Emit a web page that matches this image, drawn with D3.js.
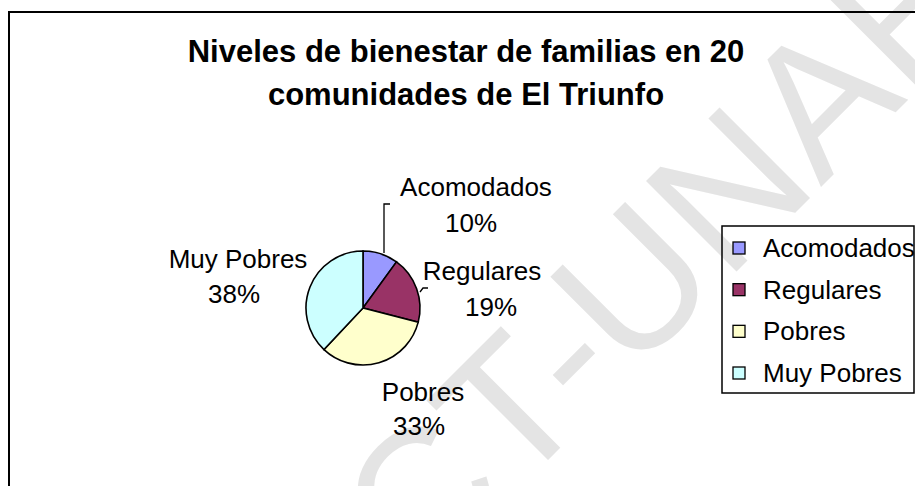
<!DOCTYPE html>
<html>
<head>
<meta charset="utf-8">
<script src="https://cdnjs.cloudflare.com/ajax/libs/d3/7.8.5/d3.min.js"></script>
<style>
body{margin:0;background:#fff;}
text{font-family:Arial,"Liberation Sans",sans-serif;}
</style>
</head>
<body>
<script>
var width = 915;
var height = 486;

var categories = ['Acomodados','Regulares','Pobres','Muy Pobres'];
var values = [10,19,33,38];
var colors = ['#9999FF','#993366','#FFFFCC','#CCFFFF'];
var titleLines = ['Niveles de bienestar de familias en 20','comunidades de El Triunfo'];
// label text centres
var labelPos = [[476,196,471,232],[482,280,491,316],[423,401,419,435],[238,268,234,303]];

var svg = d3.select('body').append('svg')
	.attr('width',width)
	.attr('height',height);

// watermark
svg.append('text')
	.attr('transform','translate(419,589) rotate(-45)')
	.attr('font-size',186)
	.attr('fill','#e4e4e4')
	.text('CT-UNAH');

// chart frame
svg.append('rect')
	.attr('x',9).attr('y',12)
	.attr('width',1000).attr('height',600)
	.attr('fill','none')
	.attr('stroke','#000')
	.attr('stroke-width',2);

svg.append('g').selectAll('text')
	.data(titleLines)
	.enter()
	.append('text')
	.attr('x',466)
	.attr('y',(d,i)=>62+i*43)
	.attr('text-anchor','middle')
	.attr('font-weight','bold')
	.attr('font-size',31)
	.text(d=>d);

var cx = 363, cy = 308, r = 57;
var pie = d3.pie().sort(null).value(d=>d)(values);
var arc = d3.arc().innerRadius(0).outerRadius(r);

svg.append('g')
	.attr('transform','translate('+cx+','+cy+')')
	.selectAll('path')
	.data(pie)
	.enter()
	.append('path')
	.attr('d',arc)
	.attr('fill',(d,i)=>colors[i])
	.attr('stroke','#000')
	.attr('stroke-width',1.6);

// leader lines
svg.append('path')
	.attr('d','M384,253V204H390')
	.attr('fill','none').attr('stroke','#000').attr('stroke-width',1.3);
svg.append('path')
	.attr('d','M420,292L423,288H428')
	.attr('fill','none').attr('stroke','#000').attr('stroke-width',1.3);

var fmt = d3.format('.0%');
var labels = svg.append('g').selectAll('g')
	.data(pie)
	.enter()
	.append('g');
labels.append('text')
	.attr('x',(d,i)=>labelPos[i][0])
	.attr('y',(d,i)=>labelPos[i][1])
	.attr('text-anchor','middle')
	.attr('font-size',26)
	.text((d,i)=>categories[i]);
labels.append('text')
	.attr('x',(d,i)=>labelPos[i][2])
	.attr('y',(d,i)=>labelPos[i][3])
	.attr('text-anchor','middle')
	.attr('font-size',26)
	.text(d=>fmt(d.value/d3.sum(values)));

// legend
var legend = svg.append('g');
legend.append('rect')
	.attr('x',722).attr('y',226)
	.attr('width',192).attr('height',167)
	.attr('fill','none')
	.attr('stroke','#000')
	.attr('stroke-width',1.5);
var ly = d3.scalePoint().domain(categories).range([248,373]);
var item = legend.selectAll('g')
	.data(categories)
	.enter()
	.append('g')
	.attr('transform',d=>'translate(0,'+ly(d)+')');
item.append('rect')
	.attr('x',733).attr('y',-6)
	.attr('width',12).attr('height',12)
	.attr('fill',(d,i)=>colors[i])
	.attr('stroke','#000')
	.attr('stroke-width',1.3);
item.append('text')
	.attr('x',763).attr('y',9)
	.attr('font-size',26)
	.text(d=>d);
</script>
</body>
</html>
